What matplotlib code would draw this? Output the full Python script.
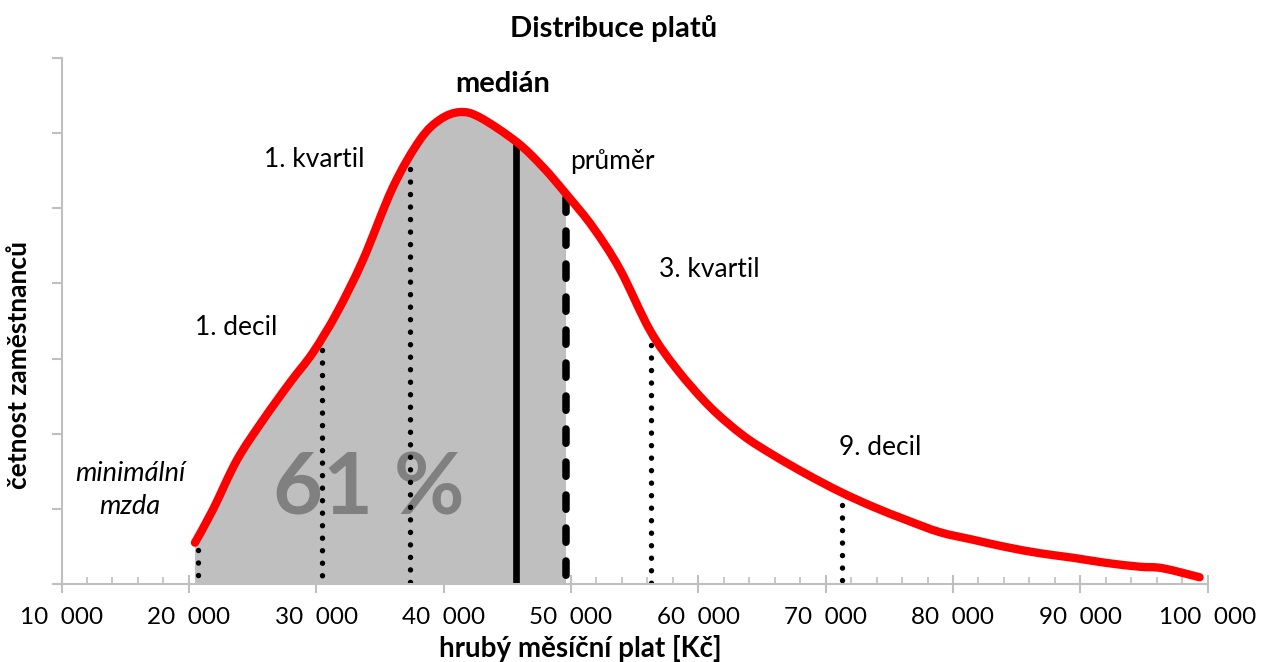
import numpy as np
import matplotlib.pyplot as plt
from matplotlib.ticker import MultipleLocator, FixedLocator
from matplotlib.path import Path
from matplotlib.patches import PathPatch, Rectangle

plt.rcParams['font.family'] = ['Lato', 'DejaVu Sans']

# křivka rozdělení
plat = np.array([20479, 21892, 23776, 25816, 27936, 29741, 31625, 33666, 36020,
                 38140, 39710, 41279, 42849, 45754, 47794, 49678, 51719,
                 53838, 56193, 58312, 60903, 63493, 65848, 68517, 71107, 73697,
                 76366, 78956, 81546, 84215, 86805, 89395, 92064, 94654, 96460,
                 99364])
cetnost = np.array([0.55, 0.99, 1.65, 2.18, 2.68, 3.08, 3.61, 4.31, 5.28,
                    5.91, 6.18, 6.28, 6.21, 5.88, 5.55, 5.18, 4.75,
                    4.19, 3.38, 2.86, 2.36, 1.98, 1.72, 1.46, 1.23, 1.03,
                    0.85, 0.69, 0.59, 0.49, 0.41, 0.35, 0.28, 0.23, 0.21,
                    0.09])

# statistiky
min_mzda = 20700
decil1 = 30450
kvartil1 = 37400
median = 45650
prumer = 49650
kvartil3 = 56300
decil9 = 71250

x_ticks = [10000, 20000, 30000, 40000, 50000, 60000, 70000, 80000, 90000, 100000]
x_labels = [f'{v // 1000}  000' for v in x_ticks]


def vyhlazena_cesta(x, y):
    # vyhlazená čára jako v Excelu (Bézierovy křivky přes body)
    p = np.column_stack([x, y]).astype(float)
    verts = [p[0]]
    codes = [Path.MOVETO]
    n = len(p)
    for i in range(n - 1):
        p0 = p[i - 1] if i > 0 else p[i]
        p3 = p[i + 2] if i + 2 < n else p[i + 1]
        c1 = p[i] + (p[i + 1] - p0) / 6
        c2 = p[i + 1] - (p3 - p[i]) / 6
        verts += [c1, c2, p[i + 1]]
        codes += [Path.CURVE4] * 3
    return verts, codes


fig = plt.figure(figsize=(12.62, 6.62), dpi=100)
ax = fig.add_axes([61.5 / 1262, 78 / 662, (1207.7 - 61.5) / 1262, 526 / 662])

verts, codes = vyhlazena_cesta(plat, cetnost)

# šedá plocha až po průměr
plocha = Path(verts + [(plat[-1], 0), (plat[0], 0), verts[0]],
              codes + [Path.LINETO, Path.LINETO, Path.CLOSEPOLY])
patch = PathPatch(plocha, facecolor='#bfbfbf', lw=0, zorder=1)
ax.add_patch(patch)
patch.set_clip_path(Rectangle((plat[0] - 300, 0), prumer - plat[0] + 300, 7,
                              transform=ax.transData))

ax.text(34137, 1.25, '61 %', fontsize=62, fontweight='bold', color='#808080',
        ha='center', va='center', zorder=1.5)


def svislice(x, odstup=0.05, **kw):
    top = np.interp(x, plat, cetnost)
    ax.plot([x, x], [top - odstup, 0], color='black', zorder=2, **kw)


tecky = dict(lw=3.9, linestyle=(0, (0.01, 2.3)), dash_capstyle='round')
for x in [min_mzda, decil1, kvartil1, kvartil3, decil9]:
    svislice(x, odstup=0.17, **tecky)
svislice(median, lw=4.8, solid_capstyle='round')
svislice(prumer, lw=5.4, linestyle=(0, (1.9, 2.5)), dash_capstyle='round')

ax.add_patch(PathPatch(Path(verts, codes), facecolor='none', edgecolor='#ff0000',
                       lw=6, capstyle='round', joinstyle='round', zorder=3))

# popisky
txt = dict(fontsize=19, ha='center', va='center')
ax.text(23697, 3.41, '1. decil', **txt)
ax.text(29819, 5.65, '1. kvartil', **txt)
ax.text(44654, 6.66, 'medián', fontsize=21, fontweight='bold', ha='center', va='center')
ax.text(53289, 5.62, 'průměr', **txt)
ax.text(60903, 4.18, '3. kvartil', **txt)
ax.text(74246, 1.81, '9. decil', **txt)
ax.text(15377, 1.25, 'minimální\nmzda', fontsize=19.5, style='italic',
        ha='center', va='center', linespacing=1.4)

ax.set_xlim(10000, 100000)
ax.set_ylim(0, 7)

for s in ['top', 'right']:
    ax.spines[s].set_visible(False)
for s in ['left', 'bottom']:
    ax.spines[s].set_color('#bfbfbf')
    ax.spines[s].set_linewidth(1.5)

ax.xaxis.set_major_locator(FixedLocator(x_ticks))
ax.set_xticklabels(x_labels)
ax.xaxis.set_minor_locator(MultipleLocator(2000))
ax.tick_params(axis='x', which='major', direction='inout', length=13, width=1.5,
               color='#bfbfbf', labelsize=17.5, pad=10)
ax.tick_params(axis='x', which='minor', direction='in', length=5, width=1.2,
               color='#bfbfbf')
ax.yaxis.set_major_locator(MultipleLocator(1))
ax.tick_params(axis='y', direction='out', length=7, width=1.5, color='#bfbfbf',
               labelleft=False)

fig.text(614 / 1262, 1 - 28 / 662, 'Distribuce platů', fontsize=21,
         fontweight='bold', ha='center', va='center')
fig.text(580 / 1262, 1 - 648 / 662, 'hrubý měsíční plat [Kč]', fontsize=20,
         fontweight='bold', ha='center', va='center')
fig.text(19 / 1262, 1 - 365 / 662, 'četnost zaměstnanců', fontsize=19,
         fontweight='bold', ha='center', va='center', rotation=90)

fig.savefig('out.png', dpi=100)
